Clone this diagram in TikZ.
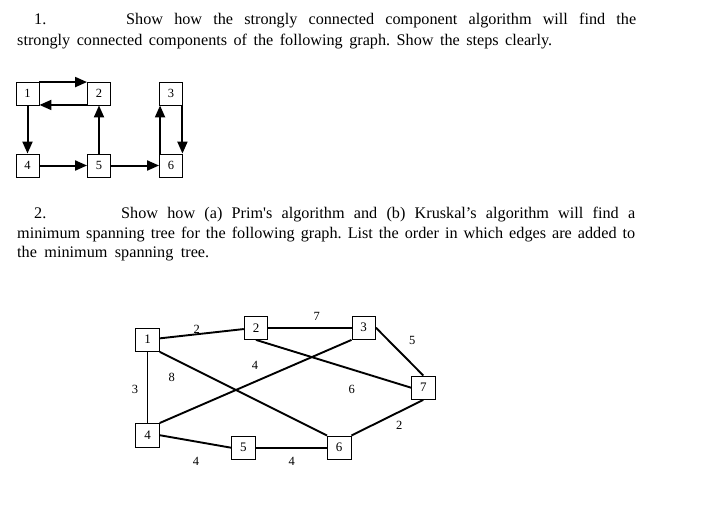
\documentclass[tikz,border=0pt]{standalone}
\usepackage{fontspec}
\setmainfont{Liberation Serif}
\newfontfamily\tnr{Liberation Serif}
\usetikzlibrary{arrows.meta}
\frenchspacing
\begin{document}
\begin{tikzpicture}[x=1pt,y=-1pt,
  txt/.style={anchor=base west,inner sep=0pt,font=\fontsize{16.2}{19}\selectfont},
  vbox/.style={draw,line width=0.9pt,minimum size=23pt,inner sep=0pt,font=\tnr\fontsize{12.5}{14}\selectfont},
  gbox/.style={draw,line width=0.9pt,minimum size=23.5pt,inner sep=0pt,font=\tnr\fontsize{13}{15}\selectfont},
  arr/.style={line width=2pt,-{Triangle[length=12pt,width=10pt]}},
  edge/.style={line width=1.9pt},
  wt/.style={inner sep=0pt,font=\tnr\fontsize{12.5}{14}\selectfont}]
\useasboundingbox (0,0) rectangle (725,523);
% text
\node[txt] (n1) at (34,24) {1.};
\node[txt] (p1a) at (126,24) {\makebox[510pt][s]{Show how the strongly connected component algorithm will find the}};
\node[txt] (p1b) at (17,45) {\makebox[535pt][s]{strongly connected components of the following graph. Show the steps clearly.}};
\node[txt] (n2) at (34,218) {2.};
\node[txt] (p2a) at (121,218) {\makebox[514pt][s]{Show how (a) Prim\textquotesingle s algorithm and (b) Kruskal’s algorithm will find a}};
\node[txt] (p2b) at (17,238) {\makebox[618pt][s]{minimum spanning tree for the following graph. List the order in which edges are added to}};
\node[txt] (p2c) at (17,257) {\makebox[192pt][s]{the minimum spanning tree.}};
% graph 1
\node[vbox] (a1) at (27.5,93.5) {1};
\node[vbox] (a2) at (99,93.5) {2};
\node[vbox] (a3) at (171,93.5) {3};
\node[vbox] (a4) at (27.5,165.5) {4};
\node[vbox] (a5) at (99,165.5) {5};
\node[vbox] (a6) at (171,165.5) {6};
\draw[arr] ([yshift=-0.5pt]a1.north east) -- ([yshift=-0.5pt]a2.north west);
\draw[arr] ([yshift=0.5pt]a2.south west) -- ([yshift=0.5pt]a1.south east);
\draw[arr] (a1.south) -- (a4.north);
\draw[arr] (a5.north) -- (a2.south);
\draw[arr] (a4.east) -- (a5.west);
\draw[arr] (a5.east) -- (a6.west);
\draw[arr] ([xshift=1pt]a6.north west) -- ([xshift=1pt]a3.south west);
\draw[arr] ([xshift=-0.5pt]a3.south east) -- ([xshift=-0.5pt]a6.north east);
% graph 2
\node[gbox] (b1) at (147.5,339.7) {1};
\node[gbox] (b2) at (256,327.7) {2};
\node[gbox] (b3) at (363.7,327.7) {3};
\node[gbox] (b7) at (423.3,387.7) {7};
\node[gbox] (b4) at (147.5,435.2) {4};
\node[gbox] (b5) at (243.3,447.7) {5};
\node[gbox] (b6) at (339.2,447.7) {6};
\draw[edge] (b1) -- (b2);
\draw[edge] (b2) -- (b3);
\draw[edge] (b3.east) -- (b7.north);
\draw[edge] (b2.south) -- (b7.west);
\draw[edge] (b1.south east) -- (b6.north west);
\draw[edge] (b4.north east) -- (b3.south west);
\draw[edge] (b1.south) -- (b4.north);
\draw[edge] (b4.east) -- (b5.west);
\draw[edge] (b5.east) -- (b6.west);
\draw[edge] (b6.north east) -- (b7.south);
\node[wt] (w12) at (196.7,329.3) {2};
\node[wt] (w23) at (316.7,316) {7};
\node[wt] (w37) at (412.3,340.7) {5};
\node[wt] (w43) at (255,365) {4};
\node[wt] (w16) at (171.7,377.3) {8};
\node[wt] (w14) at (135,389.3) {3};
\node[wt] (w27) at (351.7,389.3) {6};
\node[wt] (w67) at (399.3,425) {2};
\node[wt] (w45) at (196,461.3) {4};
\node[wt] (w56) at (291.7,461.3) {4};
\end{tikzpicture}
\end{document}
